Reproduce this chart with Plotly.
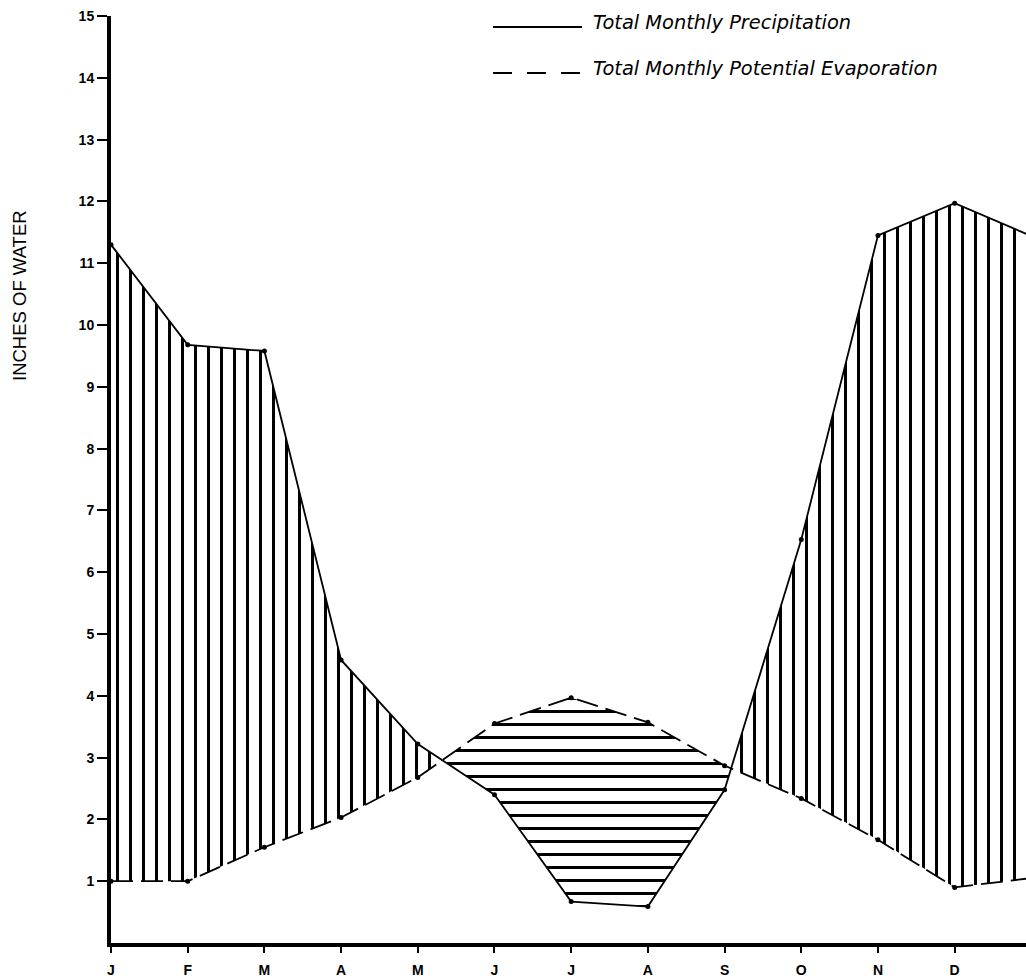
import plotly.graph_objects as go

# ---------------- data ----------------
months = ["J", "F", "M", "A", "M", "J", "J", "A", "S", "O", "N", "D", "J"]
month_pos = list(range(len(months)))
precipitation = [11.30, 9.68, 9.58, 4.58, 3.22, 2.40, 0.67, 0.59, 2.48, 6.53, 11.45, 11.97, 11.44]
evaporation = [1.00, 1.00, 1.55, 2.03, 2.68, 3.55, 3.97, 3.57, 2.87, 2.34, 1.67, 0.90, 1.05]
y_ticks = list(range(1, 16))
legend_labels = ["Total Monthly Precipitation", "Total Monthly Potential Evaporation"]
y_title = "INCHES OF WATER"

# ---------------- layout constants (pixels) ----------------
W, H = 1026, 980
ML, MR, MT, MB = 111, 0, 16, 37
PW, PH = W - ML - MR, H - MT - MB


def px_to_paper(px, py):
    return (px - ML) / PW, (H - MB - py) / PH


# ---------------- split into surplus / deficit regions ----------------
def split_regions(x, p, e):
    regs = []
    cx, cp, ce = [x[0]], [p[0]], [e[0]]
    surplus = p[0] > e[0]
    for i in range(len(x) - 1):
        d0 = p[i] - e[i]
        d1 = p[i + 1] - e[i + 1]
        if (d0 > 0) != (d1 > 0):
            t = d0 / (d0 - d1)
            xc = x[i] + t * (x[i + 1] - x[i])
            yc = p[i] + t * (p[i + 1] - p[i])
            cx.append(xc); cp.append(yc); ce.append(yc)
            regs.append((surplus, cx, cp, ce))
            cx, cp, ce = [xc], [yc], [yc]
            surplus = d1 > 0
        cx.append(x[i + 1]); cp.append(p[i + 1]); ce.append(e[i + 1])
    regs.append((surplus, cx, cp, ce))
    return regs


fig = go.Figure()

for surplus, rx, rp, re_ in split_regions(month_pos, precipitation, evaporation):
    fig.add_trace(go.Scatter(
        x=rx + rx[::-1],
        y=rp + re_[::-1],
        mode="none",
        fill="toself",
        fillcolor="white",
        fillpattern=dict(
            shape="|" if surplus else "-",
            size=13,
            solidity=3 / 13,
            fgcolor="black",
            fgopacity=1,
            bgcolor="white",
            fillmode="replace",
        ),
        hoverinfo="skip",
        showlegend=False,
    ))

fig.add_trace(go.Scatter(
    x=month_pos, y=evaporation, mode="lines+markers",
    line=dict(color="black", width=1.8, dash="22px,8px"),
    marker=dict(color="black", size=5),
    name=legend_labels[1], showlegend=False,
))
fig.add_trace(go.Scatter(
    x=month_pos, y=precipitation, mode="lines+markers",
    line=dict(color="black", width=1.8),
    marker=dict(color="black", size=5),
    name=legend_labels[0], showlegend=False,
))

# ---------------- custom legend ----------------
legend_rows = [(27, "solid"), (73, "19px,15px")]
for (py, dash), label in zip(legend_rows, legend_labels):
    x0, y0 = px_to_paper(493, py)
    x1, _ = px_to_paper(582, py)
    fig.add_shape(type="line", xref="paper", yref="paper",
                  x0=x0, x1=x1, y0=y0, y1=y0,
                  line=dict(color="black", width=2, dash=dash))
    tx, ty = px_to_paper(591, py - 5)
    fig.add_annotation(xref="paper", yref="paper", x=tx, y=ty,
                       xanchor="left", yanchor="middle", showarrow=False,
                       text=label,
                       font=dict(family="DejaVu Sans", size=19.4, style="italic", color="black"))

# y-axis title
tx, ty = px_to_paper(19, 296)
fig.add_annotation(xref="paper", yref="paper", x=tx, y=ty,
                   xanchor="center", yanchor="middle", showarrow=False,
                   text=y_title, textangle=-90,
                   font=dict(family="Liberation Sans", size=18.5, color="black"))

fig.update_layout(
    width=W, height=H,
    margin=dict(l=ML, r=MR, t=MT, b=MB, pad=0),
    paper_bgcolor="white", plot_bgcolor="white",
    showlegend=False,
    font=dict(family="Liberation Sans", color="black"),
)
fig.update_xaxes(
    range=[0, 11.93],
    tickmode="array", tickvals=month_pos, ticktext=months,
    showline=True, linewidth=4, linecolor="black",
    ticks="outside", ticklen=6, tickwidth=1.5, tickcolor="black",
    tickfont=dict(family="Liberation Sans", size=14, weight="bold", color="black"),
    ticklabelstandoff=5,
    showgrid=False, zeroline=False,
)
fig.update_yaxes(
    range=[0, 15],
    tickmode="array", tickvals=y_ticks,
    showline=True, linewidth=4, linecolor="black",
    ticks="outside", ticklen=10, tickwidth=2, tickcolor="black",
    tickfont=dict(family="Liberation Sans", size=14, weight="bold", color="black"),
    showgrid=False, zeroline=False,
)

fig.write_html(
    "out.html",
    config={"displayModeBar": False},
    post_script="document.body.style.margin='0';document.body.style.overflow='hidden';",
)
